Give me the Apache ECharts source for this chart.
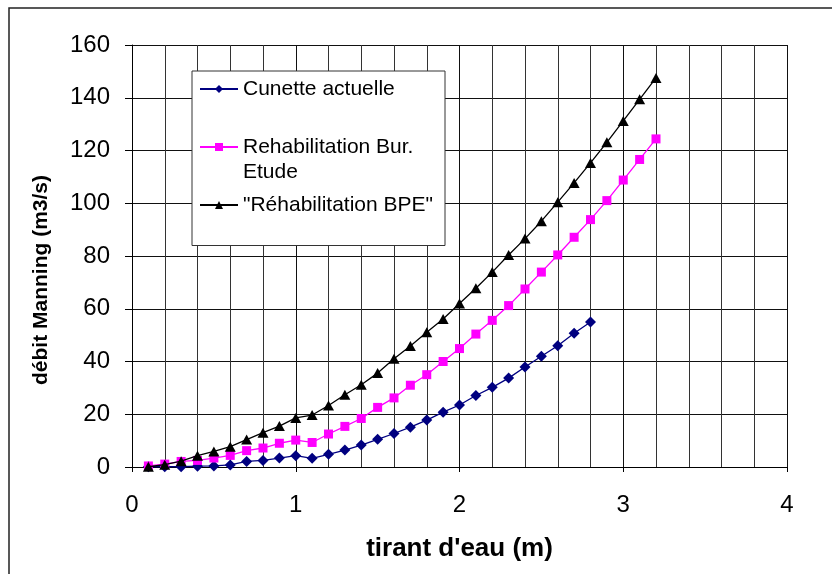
<!DOCTYPE html>
<html>
<head>
<meta charset="utf-8">
<script src="https://cdn.jsdelivr.net/npm/echarts@6/dist/echarts.min.js"></script>
<style>
html,body{margin:0;padding:0;background:#fff;}
#chart{width:832px;height:574px;}
</style>
</head>
<body>
<div id="chart"></div>
<script>
var xCunette = [0.1,0.2,0.3,0.4,0.5,0.6,0.7,0.8,0.9,1.0,1.1,1.2,1.3,1.4,1.5,1.6,1.7,1.8,1.9,2.0,2.1,2.2,2.3,2.4,2.5,2.6,2.7,2.8];
var yCunette = [0.1,0.1,0.1,0.3,0.4,0.8,2.1,2.5,3.4,4.3,3.3,4.8,6.4,8.3,10.5,12.7,15.1,17.8,20.8,23.5,27.1,30.2,33.7,37.9,42.0,46.0,50.7,55.0];
var xRehab = [0.1,0.2,0.3,0.4,0.5,0.6,0.7,0.8,0.9,1.0,1.1,1.2,1.3,1.4,1.5,1.6,1.7,1.8,1.9,2.0,2.1,2.2,2.3,2.4,2.5,2.6,2.7,2.8,2.9,3.0,3.1,3.2];
var yRehabBur = [0.4,1.1,2.1,2.5,3.4,4.4,6.2,7.2,9.0,10.2,9.3,12.5,15.4,18.4,22.6,26.2,31.0,35.0,40.0,44.9,50.4,55.6,61.2,67.5,73.9,80.4,87.1,93.8,101.0,108.8,116.6,124.4];
var yRehabBPE = [0.1,0.9,2.2,4.3,5.9,7.7,10.4,13.0,15.5,18.6,19.7,23.3,27.4,31.2,35.6,41.0,45.9,51.1,56.1,62.0,67.8,73.9,80.4,86.6,93.2,100.4,107.7,115.3,123.1,131.2,139.4,147.5];
var seriesNames = ['Cunette actuelle', 'Rehabilitation Bur. Etude', '"Réhabilitation BPE"'];
var xAxisTitle = "tirant d'eau (m)";
var yAxisTitle = 'débit Manning (m3/s)';

function pairs(xs, ys) { return xs.map(function (x, i) { return [x, ys[i]]; }); }

var FONT = '"Liberation Sans", Arial, sans-serif';
var chart = echarts.init(document.getElementById('chart'), null, {renderer: 'canvas'});
chart.setOption({
  animation: false,
  backgroundColor: '#fff',
  textStyle: {fontFamily: FONT, color: '#000'},
  graphic: [{
    type: 'rect', silent: true, z: -10,
    shape: {x: 9, y: 8, width: 900, height: 700},
    style: {fill: 'none', stroke: '#222', lineWidth: 1.5}
  }],
  grid: {left: 132, right: 45, top: 45, bottom: 107, containLabel: false},
  xAxis: {
    type: 'value', min: 0, max: 4, interval: 1,
    name: xAxisTitle, nameLocation: 'middle', nameGap: 69,
    nameTextStyle: {fontSize: 26, fontWeight: 'bold', color: '#000', fontFamily: FONT},
    axisLine: {show: true, onZero: false, lineStyle: {color: '#000', width: 1}},
    axisTick: {show: true, inside: false, length: 5, lineStyle: {color: '#000'}},
    axisLabel: {fontSize: 24, color: '#000', margin: 26, fontFamily: FONT},
    splitLine: {show: true, lineStyle: {color: '#111', width: 1}},
    minorTick: {show: false, splitNumber: 5},
    minorSplitLine: {show: true, lineStyle: {color: '#333', width: 1}}
  },
  yAxis: {
    type: 'value', min: 0, max: 160, interval: 20,
    name: yAxisTitle, nameLocation: 'middle', nameGap: 80,
    nameTextStyle: {fontSize: 21, fontWeight: 'bold', color: '#000', fontFamily: FONT, padding: [0, 48, 0, 0]},
    axisLine: {show: true, onZero: false, lineStyle: {color: '#000', width: 1}},
    axisTick: {show: true, inside: false, length: 7, lineStyle: {color: '#000'}},
    axisLabel: {fontSize: 24, color: '#000', margin: 22, fontFamily: FONT},
    splitLine: {show: true, lineStyle: {color: '#111', width: 1}}
  },
  legend: {
    orient: 'vertical', left: 192, top: 71,
    padding: [5.5, 12, 28, 7], itemGap: 8,
    itemWidth: 38, itemHeight: 10,
    backgroundColor: '#fff', borderColor: '#333', borderWidth: 1,
    textStyle: {fontSize: 21, lineHeight: 25, color: '#000', fontFamily: FONT},
    formatter: function (name) {
      if (name === seriesNames[1]) return '\nRehabilitation Bur.\nEtude';
      return name;
    },
    data: seriesNames
  },
  series: [
    {
      name: seriesNames[0], type: 'line', data: pairs(xCunette, yCunette),
      symbol: 'diamond', symbolSize: 11, showAllSymbol: true,
      lineStyle: {color: '#000080', width: 1.3},
      itemStyle: {color: '#000080'}, z: 3
    },
    {
      name: seriesNames[1], type: 'line', data: pairs(xRehab, yRehabBur),
      symbol: 'rect', symbolSize: 9, showAllSymbol: true,
      lineStyle: {color: '#ff00ff', width: 1.3},
      itemStyle: {color: '#ff00ff'}, z: 4
    },
    {
      name: seriesNames[2], type: 'line', data: pairs(xRehab, yRehabBPE),
      symbol: 'triangle', symbolSize: [11, 10], showAllSymbol: true,
      lineStyle: {color: '#000', width: 1.3},
      itemStyle: {color: '#000'}, z: 5
    }
  ]
});
</script>
</body>
</html>
